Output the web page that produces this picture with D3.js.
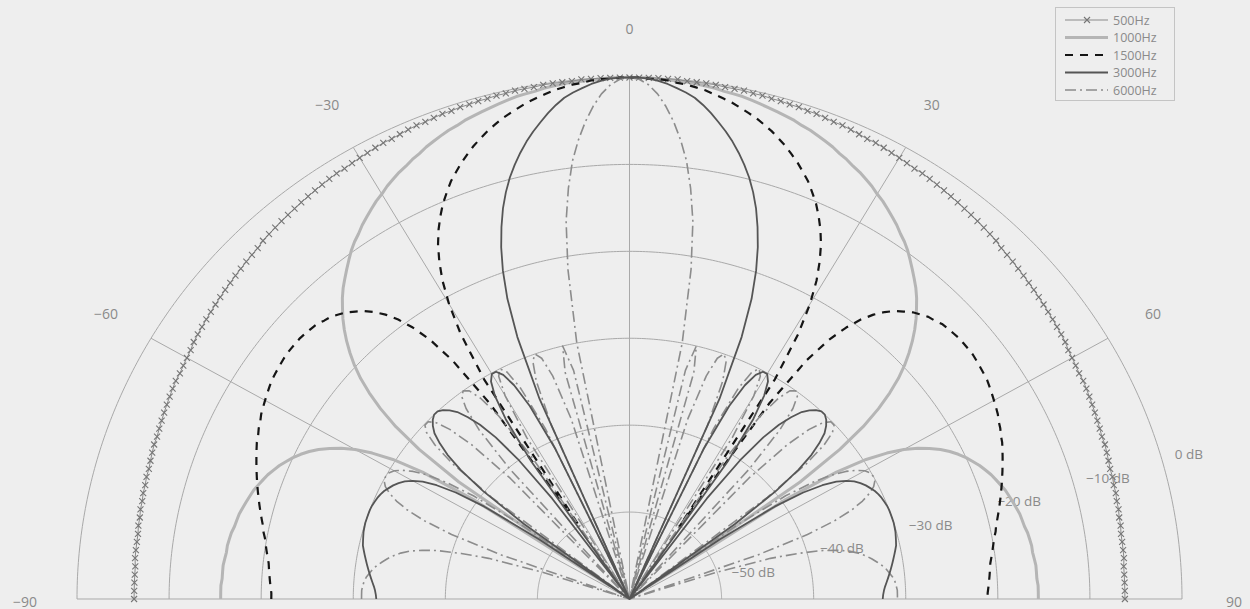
<!DOCTYPE html>
<html>
<head>
<meta charset="utf-8">
<script src="https://cdn.jsdelivr.net/npm/d3@7"></script>
<style>
  html, body { margin: 0; padding: 0; background: #eeeeee; }
  svg { display: block; font-family: "Open Sans", "Noto Sans", sans-serif; }
</style>
</head>
<body>
<svg id="chart" width="1250" height="609"></svg>
<script>
// Angular axis (degrees off-axis) and radial axis (level in dB)
const angleTicks = [-90, -60, -30, 0, 30, 60, 90];
const angleTickLabels = ["\u221290", "\u221260", "\u221230", "0", "30", "60", "90"];
const levelTicks = [0, -10, -20, -30, -40, -50];
const levelTickLabels = ["0 dB", "\u221210 dB", "\u221220 dB", "\u221230 dB", "\u221240 dB", "\u221250 dB"];
const frequencies = ["500Hz", "1000Hz", "1500Hz", "3000Hz", "6000Hz"];

// Relative level (dB) from 0° to 90° in 1° steps; each pattern is symmetric about 0°.
const level500 = [
  0, 0, 0, 0, 0, 0, -0.1, -0.1, -0.1, -0.1,
  -0.2, -0.2, -0.2, -0.3, -0.3, -0.4, -0.4, -0.5, -0.5, -0.6,
  -0.6, -0.7, -0.8, -0.8, -0.9, -1.0, -1.1, -1.1, -1.2, -1.3,
  -1.4, -1.5, -1.6, -1.6, -1.7, -1.8, -1.9, -2.0, -2.1, -2.2,
  -2.3, -2.4, -2.5, -2.6, -2.7, -2.9, -3.0, -3.1, -3.2, -3.3,
  -3.4, -3.5, -3.6, -3.7, -3.8, -3.9, -4.0, -4.1, -4.2, -4.4,
  -4.5, -4.6, -4.7, -4.7, -4.8, -4.9, -5.0, -5.1, -5.2, -5.3,
  -5.4, -5.4, -5.5, -5.6, -5.7, -5.7, -5.8, -5.8, -5.9, -5.9,
  -6.0, -6.0, -6.1, -6.1, -6.1, -6.1, -6.2, -6.2, -6.2, -6.2,
  -6.2
];
const level1000 = [
  0, 0, 0, -0.1, -0.1, -0.2, -0.2, -0.3, -0.4, -0.5,
  -0.7, -0.8, -0.9, -1.1, -1.3, -1.5, -1.7, -1.9, -2.1, -2.4,
  -2.6, -2.9, -3.2, -3.5, -3.9, -4.2, -4.6, -4.9, -5.3, -5.7,
  -6.2, -6.6, -7.1, -7.6, -8.1, -8.7, -9.2, -9.8, -10.5, -11.2,
  -11.9, -12.6, -13.4, -14.3, -15.2, -16.2, -17.3, -18.5, -19.8, -21.3,
  -23.1, -25.2, -27.8, -31.4, -37.1, -57.3, -39.5, -33.2, -29.7, -27.4,
  -25.6, -24.2, -23.1, -22.1, -21.3, -20.6, -20.0, -19.5, -19.0, -18.6,
  -18.2, -17.9, -17.6, -17.3, -17.1, -16.9, -16.7, -16.5, -16.4, -16.3,
  -16.1, -16.0, -15.9, -15.9, -15.8, -15.7, -15.7, -15.7, -15.6, -15.6,
  -15.6
];
const level1500 = [
  0, 0, -0.1, -0.1, -0.2, -0.4, -0.5, -0.7, -0.9, -1.2,
  -1.5, -1.8, -2.2, -2.6, -3.0, -3.5, -4.0, -4.6, -5.2, -5.9,
  -6.6, -7.4, -8.2, -9.2, -10.2, -11.4, -12.7, -14.2, -16.0, -18.1,
  -20.8, -24.4, -30.2, -50.0, -32.8, -26.5, -23.1, -20.9, -19.2, -17.9,
  -16.9, -16.1, -15.5, -14.9, -14.5, -14.1, -13.9, -13.6, -13.5, -13.4,
  -13.3, -13.3, -13.3, -13.3, -13.4, -13.5, -13.6, -13.7, -13.9, -14.1,
  -14.3, -14.5, -14.7, -15.0, -15.2, -15.5, -15.7, -16.0, -16.3, -16.6,
  -16.9, -17.2, -17.5, -17.8, -18.1, -18.4, -18.7, -19.0, -19.3, -19.5,
  -19.8, -20.0, -20.2, -20.4, -20.6, -20.7, -20.8, -20.9, -21.0, -21.1,
  -21.1
];
const level3000 = [
  0, 0, -0.1, -0.3, -0.6, -1.0, -1.4, -1.9, -2.6, -3.4,
  -4.3, -5.2, -6.2, -7.3, -8.5, -9.8, -11.3, -13.0, -15.0, -17.2,
  -19.8, -23.0, -27.5, -35.0, -60,
  -41.0, -35.3, -32.4, -30.8, -30.1, -30.1, -30.8, -32.4, -35.3, -41.0, -60,
  -45.7, -39.8, -36.4, -34.2, -32.7, -31.5, -30.8, -30.3, -30.0, -30.0,
  -30.3, -30.8, -31.5, -32.7, -34.2, -36.4, -39.8, -45.7, -60,
  -48.0, -41.0, -37.5, -35.3, -33.8, -32.8, -32.1, -31.6, -31.2, -30.9,
  -30.6, -30.4, -30.25, -30.15, -30.05, -30.0, -30.0, -30.0,
  -30.0, -30.05, -30.1, -30.2, -30.3, -30.4, -30.6, -30.8, -31.0, -31.2,
  -31.4, -31.6, -31.8, -32.0, -32.2, -32.35, -32.45, -32.5
];
const level6000 = [
  0, -0.2, -0.8, -1.8, -3.2, -4.9, -6.9, -9.2, -12.3, -16.0, -21.5, -30.0, -60,
  -33.0, -30.0, -33.0, -60,
  -38.3, -33.0, -30.7, -30.0, -30.7, -33.0, -38.3, -60,
  -38.3, -33.0, -30.7, -30.0, -30.7, -33.0, -38.3, -60,
  -40.2, -34.6, -31.8, -30.4, -30.0, -30.4, -31.8, -34.6, -40.2, -60,
  -41.0, -35.3, -32.4, -30.8, -30.1, -30.1, -30.8, -32.4, -35.3, -41.0, -60,
  -45.2, -39.3, -36.0, -33.8, -32.3, -31.25, -30.5, -30.1, -30.0, -30.1,
  -30.5, -31.25, -32.3, -33.8, -36.0, -39.3, -45.2, -60,
  -50.0, -44.0, -41.0, -38.5, -36.8, -35.5, -34.6, -33.9, -33.3, -32.8,
  -32.3, -31.9, -31.6, -31.3, -31.1, -31.0, -30.9, -30.9, -30.9
];

const seriesLevels = [level500, level1000, level1500, level3000, level6000];
const seriesStyle = [
  { stroke: "#8a8a8a", width: 1.0, dash: null, marker: true },
  { stroke: "#b5b5b5", width: 3.0, dash: null },
  { stroke: "#151515", width: 2.2, dash: "8,7" },
  { stroke: "#555555", width: 1.8, dash: null },
  { stroke: "#8c8c8c", width: 1.6, dash: "11,4,2,4" }
];

const angles = d3.range(-90, 91);

// Geometry of the half-disc
const cx = 629.5, cy = 599, Rx = 552.5, Ry = 521.5;
const rScale = d3.scaleLinear().domain([-60, 0]).range([0, 1]).clamp(true);
const xScale = d3.scaleLinear().domain([-1, 1]).range([cx - Rx, cx + Rx]);
const yScale = d3.scaleLinear().domain([0, 1]).range([cy, cy - Ry]);
const rad = d => d * Math.PI / 180;
const polarX = (deg, k) => xScale(k * Math.sin(rad(deg)));
const polarY = (deg, k) => yScale(k * Math.cos(rad(deg)));

const svg = d3.select("#chart");
const gridColor = "#a9a9a9";
const textColor = "#8a8a8a";

// Rings every 10 dB
const grid = svg.append("g").attr("fill", "none").attr("stroke", gridColor).attr("stroke-width", 1);
const ringAngles = d3.range(-90, 90.01, 0.5);
levelTicks.forEach(L => {
  const k = rScale(L);
  grid.append("path")
    .attr("d", d3.line().x(a => polarX(a, k)).y(a => polarY(a, k))(ringAngles));
});
// Spokes
angleTicks.forEach(a => {
  grid.append("line")
    .attr("x1", polarX(a, 0)).attr("y1", polarY(a, 0))
    .attr("x2", polarX(a, 1)).attr("y2", polarY(a, 1));
});

// Angle labels
svg.append("g").selectAll("text").data(angleTicks).join("text")
  .attr("x", a => polarX(a, 1.094))
  .attr("y", a => polarY(a, 1.094) + (Math.abs(a) === 90 ? 2 : 0))
  .attr("text-anchor", "middle")
  .attr("dominant-baseline", "central")
  .attr("font-size", 14)
  .attr("fill", textColor)
  .text((a, i) => angleTickLabels[i]);

// Level labels along the 74° direction
svg.append("g").selectAll("text").data(levelTicks).join("text")
  .attr("x", L => polarX(74.3, rScale(L) + 0.025))
  .attr("y", L => polarY(74.3, rScale(L) + 0.025))
  .attr("dominant-baseline", "central")
  .attr("font-size", 13.5)
  .attr("fill", textColor)
  .text((L, i) => levelTickLabels[i]);

// Curves
const curveG = svg.append("g").attr("fill", "none");
const drawOrder = [1, 0, 2, 4, 3];
const markerSize = 3;
drawOrder.forEach(i => {
  const half = seriesLevels[i];
  const pts = angles.map(a => ({ a, v: half[Math.abs(a)] }));
  const st = seriesStyle[i];
  const line = d3.line()
    .x(d => polarX(d.a, rScale(d.v)))
    .y(d => polarY(d.a, rScale(d.v)));
  curveG.append("path")
    .attr("d", line(pts))
    .attr("stroke", st.stroke)
    .attr("stroke-width", st.width)
    .attr("stroke-dasharray", st.dash)
    .attr("stroke-linejoin", "round");
  if (st.marker) {
    const s = markerSize;
    curveG.append("g").selectAll("path").data(pts).join("path")
      .attr("d", d => {
        const x = polarX(d.a, rScale(d.v)), y = polarY(d.a, rScale(d.v));
        return `M${x - s},${y - s}L${x + s},${y + s}M${x - s},${y + s}L${x + s},${y - s}`;
      })
      .attr("stroke", "#767676")
      .attr("stroke-width", 1.1);
  }
});

// Legend
const lg = svg.append("g");
lg.append("rect").attr("x", 1055.5).attr("y", 7.5).attr("width", 119).attr("height", 93)
  .attr("fill", "#eeeeee").attr("stroke", "#c4c4c4");
const legendY = [20, 37.5, 55, 72.5, 90];
frequencies.forEach((f, i) => {
  const st = seriesStyle[i];
  const y = legendY[i];
  lg.append("line").attr("x1", 1065).attr("x2", 1108).attr("y1", y).attr("y2", y)
    .attr("stroke", st.stroke).attr("stroke-width", st.width)
    .attr("stroke-dasharray", st.dash);
  if (st.marker) {
    const s = markerSize, x = 1087;
    lg.append("path").attr("d", `M${x - s},${y - s}L${x + s},${y + s}M${x - s},${y + s}L${x + s},${y - s}`)
      .attr("stroke", "#767676").attr("stroke-width", 1.1);
  }
  lg.append("text").attr("x", 1113).attr("y", y).attr("dominant-baseline", "central")
    .attr("font-size", 12.5).attr("fill", textColor).text(f);
});
</script>
</body>
</html>
